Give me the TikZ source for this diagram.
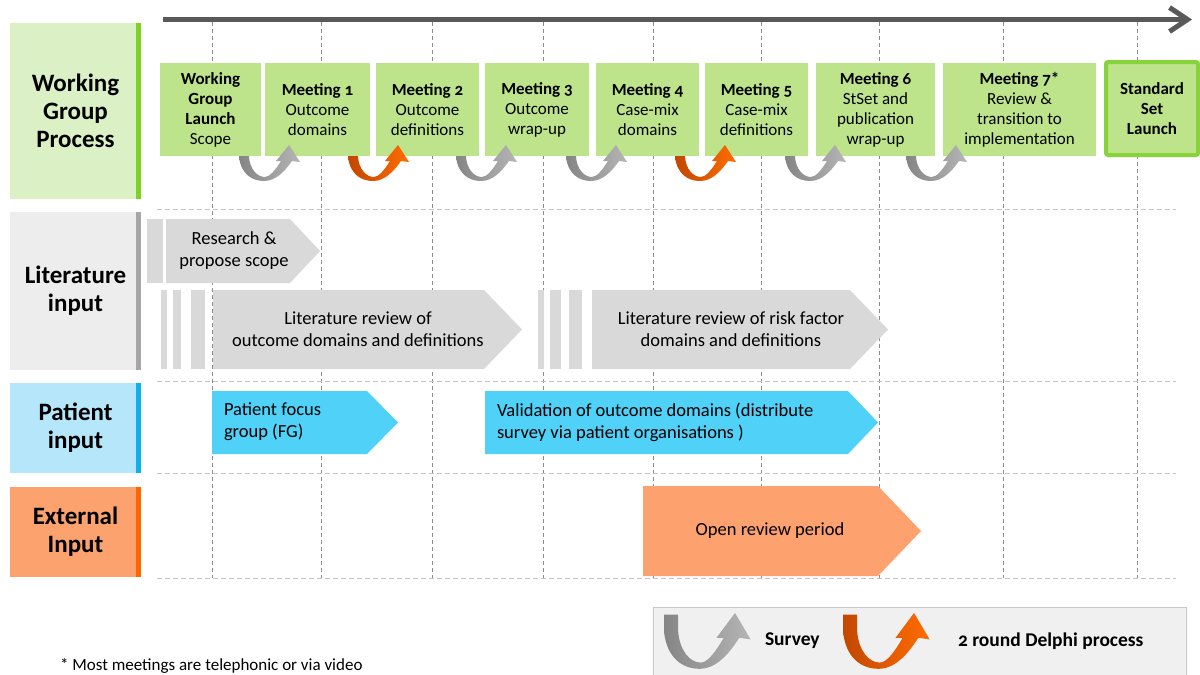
\documentclass[tikz,border=0pt]{standalone}
\usepackage{fontspec}
\setmainfont{Carlito}[Numbers=OldStyle]
\usetikzlibrary{arrows.meta}

\definecolor{mtgfill}{HTML}{BEE48B}
\definecolor{wghead}{HTML}{DCF0C6}
\definecolor{wgbar}{HTML}{7ED321}
\definecolor{sslbord}{HTML}{86D33A}
\definecolor{litfill}{HTML}{D9D9D9}
\definecolor{lithead}{HTML}{EDEDED}
\definecolor{litbar}{HTML}{A6A6A6}
\definecolor{patfill}{HTML}{4FD1F8}
\definecolor{pathead}{HTML}{B5E6FA}
\definecolor{patbar}{HTML}{10B0EE}
\definecolor{extfill}{HTML}{FDA16F}
\definecolor{exthead}{HTML}{FBA26F}
\definecolor{extbar}{HTML}{FF6600}
\definecolor{timeline}{HTML}{595959}
\definecolor{vgrid}{HTML}{8C8C8C}
\definecolor{hgrid}{HTML}{C4C4C4}
\definecolor{legfill}{HTML}{F0F0F0}
\definecolor{legedge}{HTML}{C8C8C8}
\definecolor{greyA}{HTML}{858585}
\definecolor{greyB}{HTML}{B5B5B5}
\definecolor{orgA}{HTML}{C24700}
\definecolor{orgB}{HTML}{FF6C00}

% U-turn ribbon arrow; #1 = top of the left arm (local units)
\newcommand\uturnpath[1]{(0,#1) -- (0,0) .. controls (2,17) and (13,24) .. (25,24)
  .. controls (37,24) and (46,14) .. (53,4) -- (61,5) -- (50,-12) -- (37,4) -- (42,4)
  .. controls (37,12) and (31,20) .. (26,20) .. controls (18,20) and (11,12) .. (10,0)
  -- (10,#1) -- cycle}
% pentagon-shaped bar: colour, left x, body end x, tip x, top y, bottom y
\newcommand\tlchev[6]{\fill[#1] (#2,#5) -- (#3,#5) -- (#4,{(#5+#6)/2}) -- (#3,#6) -- (#2,#6) -- cycle;}

\begin{document}
\begin{tikzpicture}[x=1pt,y=-1pt,
  every node/.style={inner sep=0pt,outer sep=0pt},
  hbar/.style={path picture={\fill[#1] ([xshift=-5pt]path picture bounding box.north east) rectangle (path picture bounding box.south east);}},
  header/.style={minimum width=131,align=center,font=\fontsize{25}{28}\selectfont\bfseries},
  mtg/.style={fill=mtgfill,minimum height=93,align=center,font=\fontsize{17}{20}\selectfont},
  bartext/.style={align=center,font=\fontsize{18.5}{22}\selectfont},
  vgridline/.style={vgrid,line width=0.9,dash pattern=on 4pt off 3pt},
  hgridline/.style={hgrid,line width=0.9,dash pattern=on 5pt off 3pt},
  legtext/.style={anchor=west,font=\fontsize{19.5}{22}\selectfont\bfseries}]
\useasboundingbox[fill=white] (0,0) rectangle (1200,675);

% grid
\foreach \x in {212,321,432,543,653,761,879,1003,1137}
  \draw[vgridline] (\x,22) -- (\x,578);
\foreach \y in {209,381,473,578}
  \draw[hgridline] (157,\y) -- (1176,\y);

% time axis
\coordinate (tl0) at (163,19.5);
\coordinate (tl1) at (1192,19.5);
\draw[timeline,line width=5,-{Straight Barb[length=18pt,width=24pt]}] (tl0) -- (tl1);

% row headers
\node[header,fill=wghead,hbar=wgbar,minimum height=176] (hwg) at (75.5,111) {Working\\Group\\Process};
\node[header,fill=lithead,hbar=litbar,minimum height=158] (hlit) at (75.5,291) {Literature\\input};
\node[header,fill=pathead,hbar=patbar,minimum height=90] (hpat) at (75.5,428) {Patient\\input};
\node[header,fill=exthead,hbar=extbar,minimum height=90] (hext) at (75.5,532) {External\\Input};

% working group meetings
\node[mtg,minimum width=101] (launch) at (210.5,109.5) {\bfseries Working\\\bfseries Group\\\bfseries Launch\\Scope};
\node[mtg,minimum width=105] (m1) at (317.5,109.5) {\bfseries Meeting 1\\Outcome\\domains};
\node[mtg,minimum width=103] (m2) at (427.5,109.5) {\bfseries Meeting 2\\Outcome\\definitions};
\node[mtg,minimum width=104] (m3) at (537,109.5) {\bfseries Meeting 3\\Outcome\\wrap-up};
\node[mtg,minimum width=103] (m4) at (647.5,109.5) {\bfseries Meeting 4\\Case-mix\\domains};
\node[mtg,minimum width=103] (m5) at (756.5,109.5) {\bfseries Meeting 5\\Case-mix\\definitions};
\node[mtg,minimum width=119] (m6) at (875.5,109.5) {\bfseries Meeting 6\\StSet and\\publication\\wrap-up};
\node[mtg,minimum width=153] (m7) at (1019.5,109.5) {\bfseries Meeting 7*\\Review \&\\transition to\\implementation};
\node[mtg,draw=sslbord,line width=4,rounded corners=2,minimum width=92,minimum height=93,font=\fontsize{17}{20}\selectfont\bfseries] (ssl) at (1152,108.5) {Standard\\Set\\Launch};

% survey / Delphi rounds between meetings
\foreach \ox/\ca/\cb in {239/greyA/greyB,348/orgA/orgB,456/greyA/greyB,566/greyA/greyB,675/orgA/orgB,785/greyA/greyB,906/greyA/greyB}
  \shade[shift={(\ox,157)},left color=\ca,right color=\cb] \uturnpath{-1};

% literature input
\fill[litfill] (147,219) rectangle (163,283);
\tlchev{litfill}{166}{290}{320}{219}{283}
\node[bartext] (research) at (234,251) {Research \&\\propose scope};
\fill[litfill] (161,290) rectangle (167,369);
\fill[litfill] (173,290) rectangle (181,369);
\fill[litfill] (191,290) rectangle (205,369);
\tlchev{litfill}{213}{484}{522}{290}{369}
\node[bartext] (litout) at (358,329.5) {Literature review of\\outcome domains and definitions};
\fill[litfill] (538,290) rectangle (544,369);
\fill[litfill] (550,290) rectangle (561,369);
\fill[litfill] (569,290) rectangle (582,369);
\tlchev{litfill}{592}{850}{888}{290}{369}
\node[bartext] (litrisk) at (731,329.5) {Literature review of risk factor\\domains and definitions};

% patient input
\tlchev{patfill}{212}{367}{398}{391}{454}
\node[bartext,anchor=west,align=left] (fg) at (224,422) {Patient focus\\group (FG)};
\tlchev{patfill}{485}{848}{878}{391}{454}
\node[bartext,anchor=west,align=left] (valid) at (497,422) {Validation of outcome domains (distribute\\survey via patient organisations )};

% external input
\tlchev{extfill}{643}{878}{921}{486}{576}
\node[bartext] (review) at (770,531) {Open review period};

% footnote
\node[anchor=west,font=\fontsize{17}{20}\selectfont] (note) at (60,666) {* Most meetings are telephonic or via video};

% legend
\node[fill=legfill,draw=legedge,line width=1,minimum width=533,minimum height=93,anchor=north west] (legend) at (653,607) {};
\shade[shift={(664,631.6)},xscale=1.42,yscale=1.55,left color=greyA,right color=greyB] \uturnpath{-11};
\node[legtext] (survey) at (765,641) {Survey};
\shade[shift={(843,631.6)},xscale=1.42,yscale=1.55,left color=orgA,right color=orgB] \uturnpath{-11};
\node[legtext] (delphi) at (958,641) {2 round Delphi process};
\end{tikzpicture}
\end{document}
